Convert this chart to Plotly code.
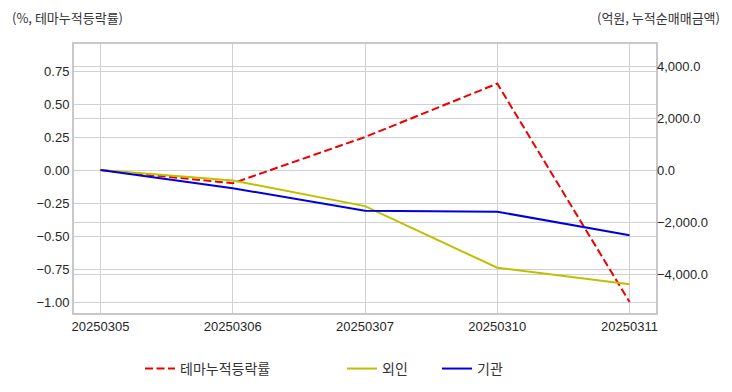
import plotly.graph_objects as go

dates = ["20250305", "20250306", "20250307", "20250310", "20250311"]
theme_rate = [0.0, -0.10, 0.25, 0.655, -1.0]
foreign = [0.0, -400.0, -1390.0, -3760.0, -4390.0]
institution = [0.0, -700.0, -1570.0, -1605.0, -2510.0]

FONT = "Liberation Sans, Arial, Noto Sans CJK KR, sans-serif"
KFONT = "Noto Sans CJK KR, Liberation Sans, sans-serif"
GRID = "#d0d0d0"

fig = go.Figure()
fig.add_trace(go.Scatter(x=dates, y=theme_rate, mode="lines", name="테마누적등락률",
                         line=dict(color="#ee0000", width=2, dash="8px,3.5px"),
                         yaxis="y", legend="legend"))
fig.add_trace(go.Scatter(x=dates, y=foreign, mode="lines", name="외인",
                         line=dict(color="#bfbf00", width=2),
                         yaxis="y2", legend="legend2"))
fig.add_trace(go.Scatter(x=dates, y=institution, mode="lines", name="기관",
                         line=dict(color="#0000dd", width=2),
                         yaxis="y2", legend="legend3"))

legend_common = dict(orientation="h", yanchor="middle", y=-0.208, xanchor="left",
                     bgcolor="rgba(0,0,0,0)", font=dict(family=KFONT, size=14, color="#333333"))

fig.update_layout(
    width=732, height=392,
    margin=dict(l=74, r=76, t=44, b=79, autoexpand=False),
    paper_bgcolor="white", plot_bgcolor="white",
    font=dict(family=FONT, size=13, color="#333333"),
    xaxis=dict(type="category", range=[-0.2, 4.2], showgrid=True, gridcolor=GRID, gridwidth=1,
               showline=True, linecolor="#c8c8c8", linewidth=2, mirror=True, automargin=False,
               ticks="", tickfont=dict(size=13, color="#262626"), zeroline=False),
    yaxis=dict(range=[-1.083, 0.955], tickvals=[-1.0, -0.75, -0.5, -0.25, 0.0, 0.25, 0.5, 0.75],
               tickformat=".2f", showgrid=True, gridcolor=GRID, gridwidth=1, zeroline=False,
               showline=True, linecolor="#c8c8c8", linewidth=2, mirror=True, automargin=False,
               ticks="", tickfont=dict(size=13, color="#262626")),
    yaxis2=dict(range=[-5500, 4846], overlaying="y", side="right", automargin=False,
                tickvals=[-4000, -2000, 0, 2000, 4000], tickformat=",.1f",
                showgrid=True, gridcolor=GRID, gridwidth=1, zeroline=False,
                ticks="", tickfont=dict(size=13, color="#262626")),
    legend=dict(x=(140 - 74) / 582, **legend_common),
    legend2=dict(x=(342 - 74) / 582, **legend_common),
    legend3=dict(x=(437 - 74) / 582, **legend_common),
    annotations=[
        dict(text="(%, 테마누적등락률)", xref="paper", yref="paper", x=(10 - 74) / 582, y=1.1,
             xanchor="left", yanchor="middle", showarrow=False,
             font=dict(family=KFONT, size=13, color="#333333")),
        dict(text="(억원, 누적순매매금액)", xref="paper", yref="paper", x=(722 - 74) / 582, y=1.1,
             xanchor="right", yanchor="middle", showarrow=False,
             font=dict(family=KFONT, size=13, color="#333333")),
    ],
    showlegend=True,
)

fig.write_html("out.html", config={"displayModeBar": False},
               post_script="document.body.style.margin='0';document.body.style.overflow='hidden';")
